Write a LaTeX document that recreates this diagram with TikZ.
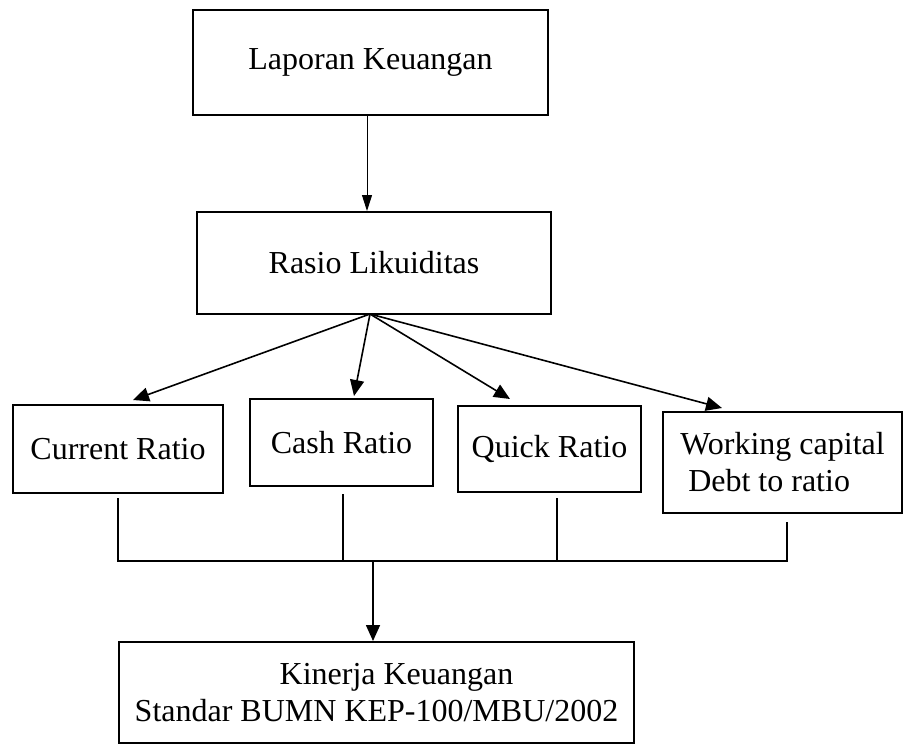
\documentclass[tikz,border=0pt]{standalone}
\usepackage{fontspec}
\setmainfont{Liberation Serif}
\usetikzlibrary{arrows.meta}

\begin{document}
\begin{tikzpicture}[x=0.5pt,y=-0.5pt,
  box/.style={draw, line width=1pt, inner sep=0pt, align=center, font=\fontsize{16}{18.5}\selectfont},
  link/.style={line width=0.8pt},
  arr/.style={line width=0.8pt, -{Triangle[length=8pt,width=7pt]}}]
\useasboundingbox (0,0) rectangle (904,744);
\node[box, minimum width=177.5pt, minimum height=52.5pt] (lap) at (370.5,62.5) {Laporan Keuangan};
\node[box, minimum width=177pt, minimum height=51pt] (ras) at (374,263) {Rasio Likuiditas};
\node[box, minimum width=105pt, minimum height=44pt] (cur) at (118,449) {Current Ratio};
\node[box, minimum width=91.5pt, minimum height=43.5pt] (cash) at (341.5,442.5) {Cash Ratio};
\node[box, minimum width=91.5pt, minimum height=43pt] (quick) at (549.5,449) {Quick Ratio};
\node[box, align=left, minimum width=119.5pt, minimum height=50.5pt] (work) at (782.5,462.5) {Working capital\\~Debt to ratio};
\node[box, minimum width=257.5pt, minimum height=50.5pt] (kin) at (376.5,692.5) {\hspace{20pt}Kinerja Keuangan\\Standar BUMN KEP-100/MBU/2002};
% fan out of the ratio box
\coordinate (fan) at (370,314);
\draw[line width=0.5pt, -{Triangle[length=8pt,width=5pt]}] ([xshift=-1.75pt]lap.south) -- ([xshift=-3.5pt]ras.north);
\draw[arr] (fan) -- ([xshift=7.5pt,yshift=2pt]cur.north);
\draw[arr] (fan) -- ([xshift=6.25pt,yshift=1pt]cash.north);
\draw[arr] (fan) -- ([xshift=-19.75pt,yshift=3pt]quick.north);
\draw[arr] (fan) -- ([xshift=-30.25pt,yshift=1.5pt]work.north);
% collecting line
\coordinate (dcur) at ([yshift=-2pt]cur.south);
\coordinate (dcash) at ([xshift=0.75pt,yshift=-3.5pt]cash.south);
\coordinate (dquick) at ([xshift=3.75pt,yshift=-2.5pt]quick.south);
\coordinate (dwork) at ([xshift=2.25pt,yshift=-4pt]work.south);
\coordinate (bus) at (373,561);
\draw[link] (dcur) -- (dcur |- bus) -- (dwork |- bus) -- (dwork);
\draw[link] (dcash) -- (dcash |- bus);
\draw[link] (dquick) -- (dquick |- bus);
\draw[arr] (bus) -- (bus |- kin.north);
\end{tikzpicture}
\end{document}
